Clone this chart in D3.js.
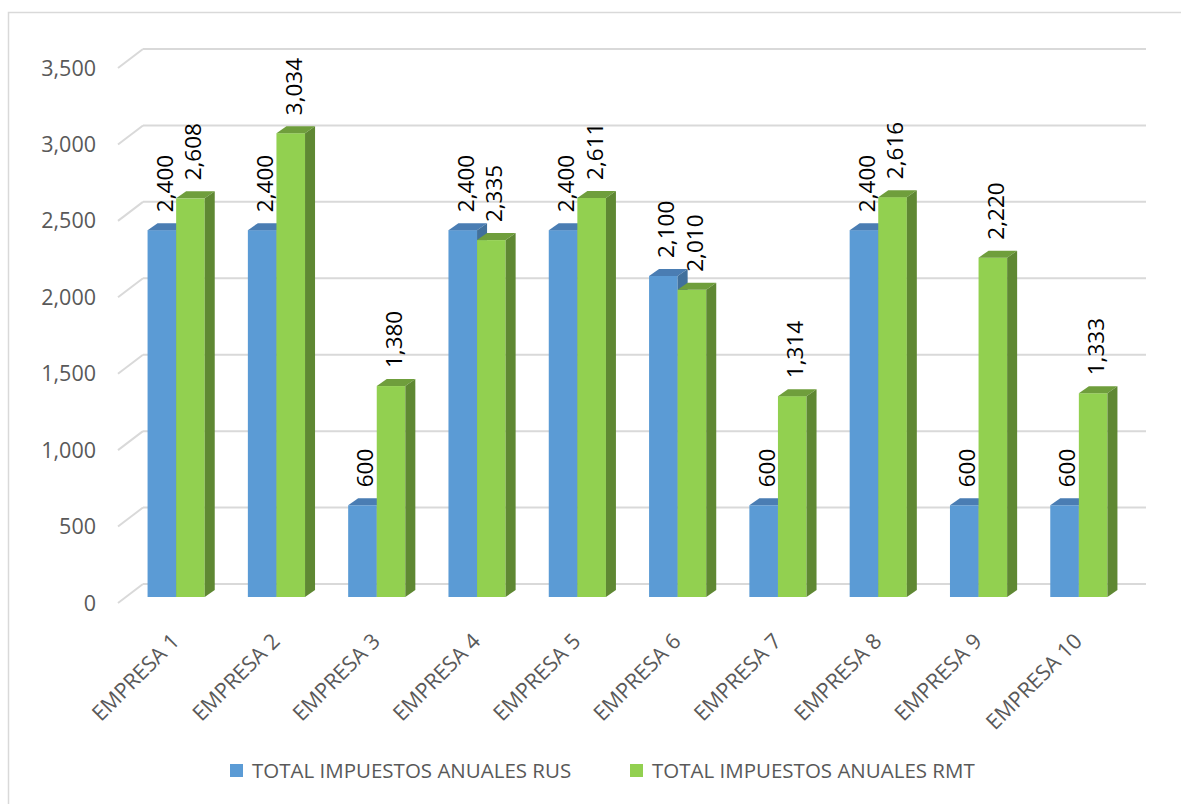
<!DOCTYPE html>
<html>
<head>
<meta charset="utf-8">
<script src="https://cdn.jsdelivr.net/npm/d3@7"></script>
<style>
  body { margin: 0; background: #fff; }
  svg text { font-family: "Open Sans", sans-serif; }
</style>
</head>
<body>
<div id="chart"></div>
<script>
var empresas = ["EMPRESA 1","EMPRESA 2","EMPRESA 3","EMPRESA 4","EMPRESA 5","EMPRESA 6","EMPRESA 7","EMPRESA 8","EMPRESA 9","EMPRESA 10"];
var rus = [2400, 2400, 600, 2400, 2400, 2100, 600, 2400, 600, 600];
var rmt = [2608, 3034, 1380, 2335, 2611, 2010, 1314, 2616, 2220, 1333];
var seriesNames = ["TOTAL IMPUESTOS ANUALES RUS", "TOTAL IMPUESTOS ANUALES RMT"];
var yTicks = [0, 500, 1000, 1500, 2000, 2500, 3000, 3500];

var width = 1181, height = 804;

// 3d-ish look: back wall, bar plane and front edge
var back = {x0: 143, x1: 1146, y0: 584, y1: 49};
var wallDx = -25, wallDy = 19;   // back wall -> front edge
var barDx = -17, barDy = 13;     // back wall -> bar front face
var depthX = 10, depthY = -7;    // bar thickness

var svg = d3.select('#chart').append('svg')
    .attr('width', width)
    .attr('height', height);

svg.append('rect')
    .attr('x', 8.5).attr('y', 12.5)
    .attr('width', 1300).attr('height', 900)
    .attr('fill', 'none')
    .attr('stroke', '#d9d9d9')
    .attr('stroke-width', 1.5);

var yScale = d3.scaleLinear()
    .domain([0, 3500])
    .range([back.y0, back.y1]);

var xScale = d3.scaleBand()
    .domain(empresas)
    .range([back.x0 + barDx, back.x1 + barDx])
    .paddingInner(0.43)
    .paddingOuter(0.215);

var xSub = d3.scaleBand()
    .domain(seriesNames)
    .range([0, xScale.bandwidth()]);

var colors = {
  front: ["#5b9bd5", "#92d050"],
  top: ["#4a7db3", "#6f9e3c"],
  side: ["#41709c", "#5f8833"]
};

// gridlines
var grid = svg.append('g').attr('class', 'grid');
grid.selectAll('line.back')
  .data(yTicks)
  .join('line')
    .attr('class', 'back')
    .attr('x1', back.x0).attr('x2', back.x1)
    .attr('y1', d => yScale(d)).attr('y2', d => yScale(d))
    .attr('stroke', '#d9d9d9').attr('stroke-width', 2);
grid.selectAll('line.slant')
  .data(yTicks)
  .join('line')
    .attr('class', 'slant')
    .attr('x1', back.x0 + wallDx).attr('x2', back.x0)
    .attr('y1', d => yScale(d) + wallDy).attr('y2', d => yScale(d))
    .attr('stroke', '#d9d9d9').attr('stroke-width', 2);

// y axis labels
svg.append('g')
  .selectAll('text')
  .data(yTicks)
  .join('text')
    .attr('x', 96)
    .attr('y', d => yScale(d) + wallDy)
    .attr('dy', '0.35em')
    .attr('text-anchor', 'end')
    .style('font-size', '21.5px')
    .style('fill', '#595959')
    .text(d3.format(','));

// bars
var bars = [];
empresas.forEach(function(e, i) {
  bars.push({cat: e, s: 0, value: rus[i]});
  bars.push({cat: e, s: 1, value: rmt[i]});
});

function barGeom(d) {
  var x = xScale(d.cat) + xSub(seriesNames[d.s]);
  var w = xSub.bandwidth();
  var yb = yScale(0) + barDy;
  var yt = yScale(d.value) + barDy;
  return {x: x, w: w, yb: yb, yt: yt};
}

var barG = svg.append('g').selectAll('g')
  .data(bars)
  .join('g');

barG.append('rect')
    .attr('x', d => barGeom(d).x)
    .attr('y', d => barGeom(d).yt)
    .attr('width', d => barGeom(d).w)
    .attr('height', d => barGeom(d).yb - barGeom(d).yt)
    .attr('fill', d => colors.front[d.s]);

barG.append('path')
    .attr('d', function(d) {
      var g = barGeom(d);
      return 'M' + g.x + ',' + g.yt + 'L' + (g.x + depthX) + ',' + (g.yt + depthY) +
        'L' + (g.x + g.w + depthX) + ',' + (g.yt + depthY) + 'L' + (g.x + g.w) + ',' + g.yt + 'Z';
    })
    .attr('fill', d => colors.top[d.s]);

barG.append('path')
    .attr('d', function(d) {
      var g = barGeom(d);
      var xr = g.x + g.w;
      return 'M' + xr + ',' + g.yt + 'L' + (xr + depthX) + ',' + (g.yt + depthY) +
        'L' + (xr + depthX) + ',' + (g.yb + depthY) + 'L' + xr + ',' + g.yb + 'Z';
    })
    .attr('fill', d => colors.side[d.s]);

// data labels
svg.append('g')
  .selectAll('text')
  .data(bars)
  .join('text')
    .attr('transform', function(d) {
      var g = barGeom(d);
      return 'translate(' + (g.x + g.w / 2 + 3) + ',' + (g.yt - 18) + ') rotate(-90)';
    })
    .attr('dy', '0.35em')
    .attr('text-anchor', 'start')
    .style('font-size', '22.5px')
    .style('fill', '#000')
    .text(d => d3.format(',')(d.value));

// x axis labels
svg.append('g')
  .selectAll('text')
  .data(empresas)
  .join('text')
    .attr('transform', d => 'translate(' + (xScale(d) + xScale.bandwidth() / 2 - 6) + ',' + 632 + ') rotate(-45)')
    .attr('text-anchor', 'end')
    .attr('dy', '0.7em')
    .style('font-size', '21.5px')
    .style('fill', '#595959')
    .text(d => d);

// legend
var legendX = [230, 630];
var legend = svg.append('g')
  .selectAll('g')
  .data(seriesNames)
  .join('g')
    .attr('transform', (d, i) => 'translate(' + legendX[i] + ',764)');
legend.append('rect')
    .attr('width', 13).attr('height', 13)
    .attr('fill', (d, i) => colors.front[i]);
legend.append('text')
    .attr('x', 22).attr('y', 7)
    .attr('dy', '0.35em')
    .style('font-size', '20.5px')
    .style('fill', '#595959')
    .text(d => d);
</script>
</body>
</html>
